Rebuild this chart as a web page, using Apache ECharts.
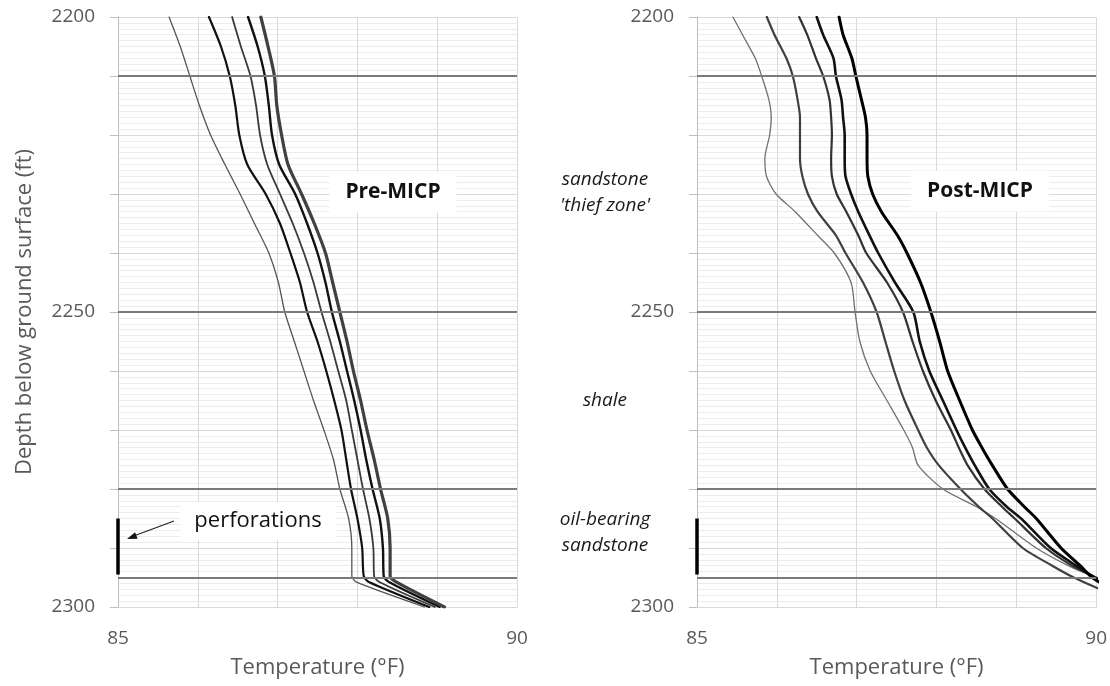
<!DOCTYPE html>
<html>
<head>
<meta charset="utf-8">
<script src="https://cdn.jsdelivr.net/npm/echarts@6/dist/echarts.min.js"></script>
<style>
html,body{margin:0;padding:0;background:#fff;}
#chart{width:1110px;height:686px;}
</style>
</head>
<body>
<div id="chart"></div>
<script>
// ---------------- DATA ----------------
const xTickLabels = [85, 90];
const yTickLabels = [2200, 2250, 2300];
const boundaryDepths = [2210, 2250, 2280, 2295];
const perforationDepths = [2285, 2294.5];
const perforationTemp = 85;

// Pre-MICP (left panel)
const preDepth = [2200,2205,2210,2215,2220,2225,2230,2235,2240,2245,2250,2255,2260,2265,2270,2275,2280,2285,2290,2294.8,2295.8,2300];
const pre1 = [85.64,85.78,85.90,86.02,86.16,86.34,86.53,86.71,86.89,87.01,87.09,87.21,87.33,87.45,87.58,87.70,87.78,87.89,87.93,87.93,87.99,88.84];
const pre2 = [86.14,86.29,86.40,86.47,86.52,86.62,86.85,87.03,87.16,87.28,87.37,87.50,87.61,87.71,87.80,87.86,87.92,88.00,88.06,88.08,88.15,88.90];
const pre3 = [86.43,86.54,86.66,86.73,86.78,86.87,87.03,87.19,87.33,87.45,87.55,87.66,87.76,87.86,87.93,88.00,88.07,88.15,88.20,88.21,88.28,88.97];
const pre4 = [86.63,86.75,86.84,86.89,86.93,87.02,87.22,87.37,87.50,87.60,87.68,87.78,87.87,87.96,88.04,88.11,88.19,88.28,88.32,88.33,88.40,89.03];
const pre5 = [86.79,86.88,86.96,86.99,87.05,87.13,87.30,87.46,87.60,87.69,87.78,87.87,87.95,88.04,88.12,88.21,88.29,88.38,88.41,88.41,88.49,89.09];

// Post-MICP (right panel)
const postDepth = [2200,2203,2207,2210,2214,2217,2220,2224,2227,2230,2233,2237,2240,2245,2250,2255,2260,2265,2270,2273,2276,2280,2283,2285,2290,2293,2295,2297];
const post1 = [85.45,85.57,85.73,85.81,85.90,85.93,85.91,85.85,85.87,85.99,86.23,86.51,86.72,86.93,86.98,87.04,87.17,87.38,87.59,87.70,87.77,88.08,88.50,88.74,89.25,89.65,89.98,90.25];
const post2 = [85.875,85.97,86.12,86.20,86.26,86.29,86.29,86.29,86.32,86.39,86.51,86.74,86.86,87.08,87.25,87.36,87.47,87.60,87.77,87.88,88.03,88.30,88.53,88.70,89.08,89.45,89.72,90.05];
const post3 = [86.28,86.38,86.49,86.58,86.66,86.68,86.69,86.68,86.69,86.75,86.87,87.02,87.12,87.38,87.58,87.70,87.83,87.99,88.18,88.28,88.39,88.60,88.82,88.98,89.37,89.70,90.00,90.30];
const post4 = [86.50,86.58,86.71,86.74,86.81,86.83,86.85,86.85,86.86,86.93,87.02,87.16,87.27,87.48,87.71,87.79,87.91,88.08,88.25,88.36,88.48,88.66,88.88,89.06,89.43,89.75,89.98,90.25];
const post5 = [86.78,86.83,86.94,86.99,87.06,87.11,87.13,87.13,87.14,87.20,87.31,87.51,87.63,87.80,87.93,88.04,88.14,88.29,88.45,88.57,88.70,88.89,89.10,89.25,89.56,89.80,89.95,90.20];

// ---------------- STYLE ----------------
const FONT = '"Open Sans", "DejaVu Sans", sans-serif';
const AXIS_TEXT = '#595959';
const preStyles = [
  {color:'#555555', width:1.3},
  {color:'#111111', width:2.2},
  {color:'#3a3a3a', width:1.8},
  {color:'#111111', width:2.4},
  {color:'#404040', width:3.2}
];
const postStyles = [
  {color:'#707070', width:1.3},
  {color:'#404040', width:2.2},
  {color:'#333333', width:2.2},
  {color:'#111111', width:2.6},
  {color:'#000000', width:3.0}
];

function xAxisCfg(gridIndex){
  return {
    gridIndex, type:'value', min:85, max:90, interval:1,
    axisLine:{show:true, lineStyle:{color:'#d9d9d9', width:1}},
    axisTick:{show:false},
    axisLabel:{
      color:AXIS_TEXT, fontSize:19, fontFamily:FONT, margin:22,
      formatter: v => xTickLabels.includes(v) ? String(v) : ''
    },
    splitLine:{show:true, lineStyle:{color:'#d9d9d9', width:1}},
    name:'Temperature (°F)', nameLocation:'middle', nameGap:50,
    nameTextStyle:{color:AXIS_TEXT, fontSize:22, fontFamily:FONT}
  };
}
function yAxisCfg(gridIndex, withName){
  const c = {
    gridIndex, type:'value', inverse:true, min:2200, max:2300, interval:10,
    axisLine:{show:true, lineStyle:{color:'#bfbfbf', width:1}},
    axisTick:{show:true, length:8, lineStyle:{color:'#bfbfbf'}},
    minorTick:{show:false, splitNumber:10},
    minorSplitLine:{show:true, lineStyle:{color:'#ececec', width:1}},
    axisLabel:{
      color:AXIS_TEXT, fontSize:19, fontFamily:FONT, margin:23,
      formatter: v => yTickLabels.includes(v) ? String(v) : ''
    },
    splitLine:{show:true, lineStyle:{color:'#d9d9d9', width:1}}
  };
  if (withName){
    c.name = 'Depth below ground surface (ft)';
    c.nameLocation = 'middle';
    c.nameGap = 82;
    c.nameTextStyle = {color:AXIS_TEXT, fontSize:22, fontFamily:FONT};
  }
  return c;
}

function curveSeries(depths, temps, style, gi){
  return {
    type:'line', xAxisIndex:gi, yAxisIndex:gi,
    data: depths.map((d,i)=>[temps[i], d]),
    symbol:'none', smooth:0.25,
    lineStyle:{color:style.color, width:style.width, join:'round', cap:'round'},
    z:3, animation:false, silent:true
  };
}
function frameSeries(gi){
  return {
    type:'line', xAxisIndex:gi, yAxisIndex:gi,
    data: perforationDepths.map(d=>[perforationTemp, d]),
    symbol:'none', clip:false,
    lineStyle:{color:'#000', width:3.5},
    z:4, animation:false, silent:true,
    markLine:{
      silent:true, symbol:['none','none'], animation:false,
      label:{show:false},
      lineStyle:{color:'#7a7a7a', width:2, type:'solid'},
      data: boundaryDepths.map(d=>({yAxis:d}))
    }
  };
}

const series = [];
[pre1,pre2,pre3,pre4,pre5].forEach((t,i)=>series.push(curveSeries(preDepth, t, preStyles[i], 0)));
[post1,post2,post3,post4,post5].forEach((t,i)=>series.push(curveSeries(postDepth, t, postStyles[i], 1)));
series.push(frameSeries(0));
series.push(frameSeries(1));

const chart = echarts.init(document.getElementById('chart'), null, {renderer:'canvas'});
chart.setOption({
  backgroundColor:'#ffffff',
  animation:false,
  textStyle:{fontFamily:FONT},
  grid:[
    {left:118, top:17, width:399, height:590},
    {left:697, top:17, width:400, height:590}
  ],
  xAxis:[xAxisCfg(0), xAxisCfg(1)],
  yAxis:[yAxisCfg(0,true), yAxisCfg(1,false)],
  series
});

// ---------------- ANNOTATIONS ----------------
function boxText(cx, cy, text, opts){
  return {
    type:'text', x:cx, y:cy, z:10,
    style:Object.assign({
      text, align:'center', verticalAlign:'middle',
      fill:'#111', fontFamily:FONT, fontSize:21,
      backgroundColor:'#fff', padding:[10,16]
    }, opts||{})
  };
}
function plainText(cx, cy, text){
  return {
    type:'text', x:cx, y:cy, z:10,
    style:{text, align:'center', verticalAlign:'middle', fill:'#1a1a1a',
      fontFamily:FONT, fontSize:19, fontStyle:'italic'}
  };
}
const midZone = [ (boundaryDepths[0]+boundaryDepths[1])/2, (boundaryDepths[1]+boundaryDepths[2])/2, (boundaryDepths[2]+boundaryDepths[3])/2 ];
const zy = midZone.map(d => chart.convertToPixel({gridIndex:0}, [85, d])[1]);
const zoneX = 605;

chart.setOption({
  graphic:[
    boxText(393, 192, 'Pre-MICP', {fontWeight:'bold'}),
    boxText(980, 191, 'Post-MICP', {fontWeight:'bold'}),
    boxText(258, 521, 'perforations', {fontSize:22, padding:[8,14]}),
    plainText(zoneX, zy[0]-14, 'sandstone'),
    plainText(zoneX, zy[0]+12, "'thief zone'"),
    plainText(zoneX, zy[1], 'shale'),
    plainText(zoneX, zy[2]-14, 'oil-bearing'),
    plainText(zoneX, zy[2]+12, 'sandstone'),
    {type:'line', z:11, shape:{x1:174, y1:521, x2:135, y2:535.5}, style:{stroke:'#222', lineWidth:1.2}},
    {type:'polygon', z:11, shape:{points:[[127,539],[137.6,538.7],[135.1,532.2]]}, style:{fill:'#111'}}
  ]
});
</script>
</body>
</html>
